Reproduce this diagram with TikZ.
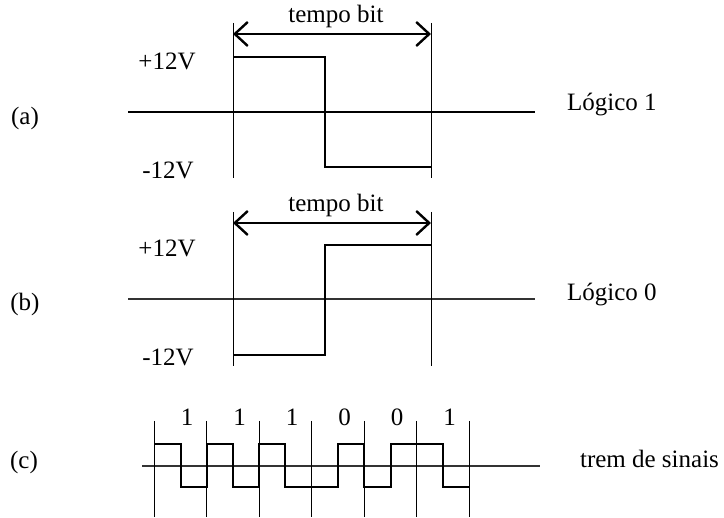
\documentclass[tikz,border=0pt]{standalone}
\usepackage{fontspec}
\setmainfont{Liberation Serif}
\usetikzlibrary{arrows.meta}

\tikzset{
  axis/.style={line width=0.6pt},
  guide/.style={line width=0.5pt},
  wave/.style={line width=1.3pt, line join=miter},
  span/.style={line width=1.2pt,
    {Straight Barb[length=6.5pt,width=12pt]}-{Straight Barb[length=6.5pt,width=12pt]}},
}

\begin{document}
\begin{tikzpicture}[x=0.5pt, y=-0.5pt, font=\fontsize{12.5}{14}\selectfont]

        \useasboundingbox (0,0) rectangle (724,518);

        % (a) logic 1
        \node (tagA) at (25,118) {(a)};
        \node (hiA) at (167,61) {+12V};
        \node (loA) at (168,170) {-12V};
        \node[anchor=west] (nameA) at (560,105) {Lógico 1};
        \draw[axis] (128,112) -- (535,112);
        \draw[guide] (233,23) -- (233,178);
        \draw[guide] (431,23) -- (431,178);
        \coordinate (startA) at (233,34);
        \coordinate (endA) at (431,34);
        \draw[span] (startA) -- (endA);
        \node (bitA) at (336,16) {tempo bit};
        \draw[wave] (233,57) -- (325,57) -- (325,167) -- (431,167);

        % (b) logic 0
        \node (tagB) at (25,304) {(b)};
        \node (hiB) at (167,248) {+12V};
        \node (loB) at (168,357) {-12V};
        \node[anchor=west] (nameB) at (560,295) {Lógico 0};
        \draw[axis, black!80] (128,299) -- (535,299);
        \draw[guide] (233,212) -- (233,366);
        \draw[guide] (431,212) -- (431,366);
        \coordinate (startB) at (233,223);
        \coordinate (endB) at (431,223);
        \draw[span] (startB) -- (endB);
        \node (bitB) at (336,205) {tempo bit};
        \draw[wave] (233,355) -- (325,355) -- (325,245) -- (431,245);

        % (c) bit train 111001
        \node (tagC) at (24,462) {(c)};
        \node[anchor=west] (nameC) at (573,459) {trem de sinais};
        \draw[axis, black!80] (142,466) -- (540,466);
        \foreach \x in {154,206.5,259,311.5,364,416.5,469}
          \draw[guide] (\x,421) -- (\x,517);
        \foreach \x/\b in {154/1,206.5/1,259/1,311.5/0,364/0,416.5/1}
          \node (bit\x) at (\x+33,417) {\b};
        \draw[wave] (154,444) -- (181,444) -- (181,487) -- (207,487)
          -- (207,444) -- (233,444) -- (233,487) -- (259,487)
          -- (259,444) -- (285,444) -- (285,487) -- (338,487)
          -- (338,444) -- (364,444) -- (364,487) -- (391,487)
          -- (391,444) -- (443,444) -- (443,487) -- (469,487);

\end{tikzpicture}
\end{document}
